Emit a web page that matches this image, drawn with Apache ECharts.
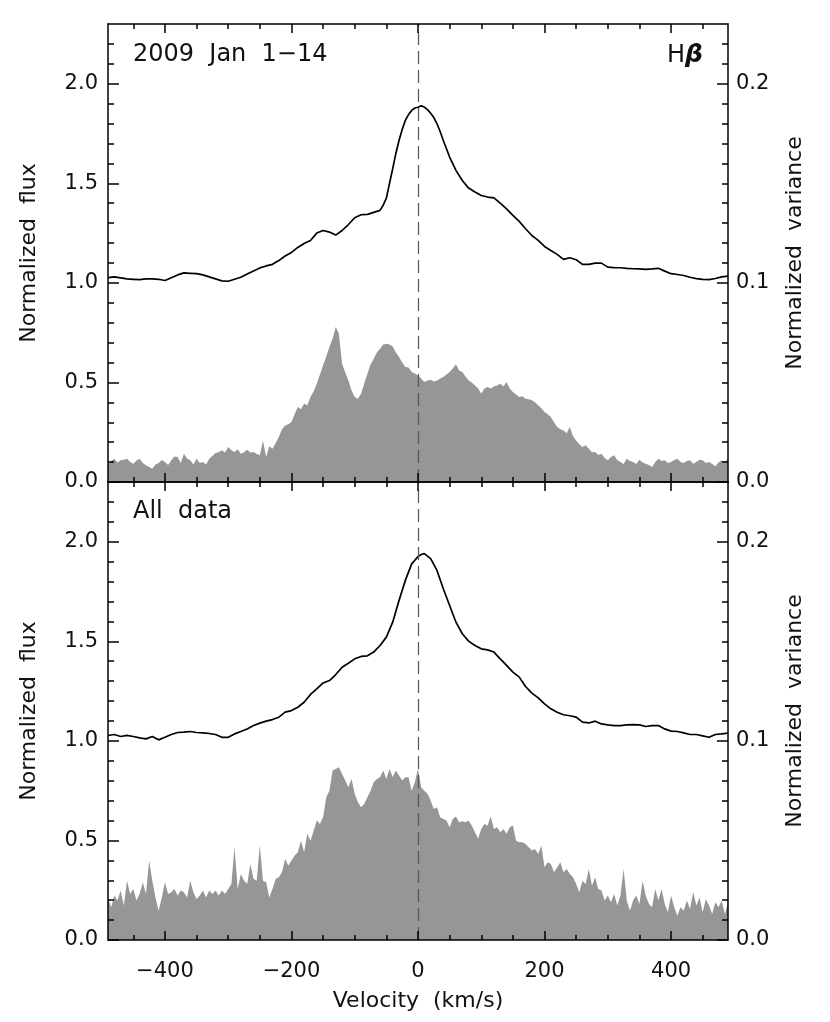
<!DOCTYPE html>
<html>
<head>
<meta charset="utf-8">
<title>H-beta flux and variance</title>
<script src="https://cdn.jsdelivr.net/npm/echarts@6/dist/echarts.min.js"></script>
<style>
  html, body { margin: 0; padding: 0; background: #fff; }
  #chart { width: 830px; height: 1022px; }
</style>
</head>
<body>
<div id="chart"></div>
<script>
// velocity (km/s), normalized flux  -- 2009 Jan 1-14
var topFlux = [[-490,1.026],[-480,1.03],[-470,1.025],[-460,1.02],[-450,1.018],[-440,1.016],[-430,1.02],[-420,1.02],[-410,1.018],[-400,1.012],[-390,1.026],[-380,1.04],[-370,1.05],[-360,1.048],[-350,1.046],[-340,1.04],[-330,1.03],[-320,1.02],[-310,1.01],[-300,1.008],[-290,1.018],[-280,1.028],[-270,1.045],[-260,1.06],[-250,1.075],[-240,1.085],[-230,1.093],[-220,1.112],[-210,1.135],[-200,1.153],[-190,1.178],[-180,1.198],[-170,1.213],[-160,1.25],[-150,1.263],[-140,1.255],[-130,1.24],[-120,1.263],[-110,1.293],[-100,1.327],[-90,1.342],[-80,1.344],[-70,1.354],[-60,1.364],[-55,1.39],[-50,1.426],[-45,1.5],[-40,1.573],[-35,1.65],[-30,1.715],[-25,1.77],[-20,1.816],[-15,1.845],[-10,1.866],[-5,1.878],[0,1.882],[5,1.889],[10,1.883],[15,1.87],[20,1.852],[25,1.83],[30,1.799],[35,1.76],[40,1.715],[50,1.632],[60,1.565],[70,1.514],[80,1.476],[90,1.456],[100,1.439],[110,1.431],[120,1.427],[130,1.4],[140,1.372],[150,1.339],[160,1.309],[170,1.272],[180,1.238],[190,1.213],[200,1.183],[210,1.163],[220,1.143],[230,1.118],[240,1.126],[250,1.116],[260,1.093],[270,1.093],[280,1.099],[290,1.099],[300,1.079],[310,1.077],[320,1.076],[330,1.073],[340,1.071],[350,1.07],[360,1.068],[370,1.07],[380,1.073],[390,1.059],[400,1.046],[410,1.042],[420,1.037],[430,1.028],[440,1.021],[450,1.018],[460,1.016],[470,1.022],[480,1.03],[490,1.034]];

// velocity, normalized variance -- 2009 Jan 1-14
var topVar = [[-490,.0092],[-485,.0105],[-480,.0117],[-475,.0098],[-470,.0109],[-465,.0112],[-460,.0117],[-455,.0100],[-450,.0092],[-445,.0108],[-440,.0117],[-435,.0095],[-430,.0084],[-425,.0075],[-420,.0067],[-415,.0088],[-410,.0095],[-405,.0110],[-400,.0100],[-395,.0085],[-390,.0109],[-385,.0128],[-380,.0126],[-375,.0095],[-370,.0142],[-365,.0118],[-360,.0109],[-355,.0088],[-350,.0117],[-345,.0095],[-340,.0100],[-335,.0088],[-330,.0117],[-325,.0130],[-320,.0146],[-315,.0150],[-310,.0159],[-305,.0148],[-300,.0176],[-295,.0160],[-290,.0151],[-285,.0165],[-280,.0142],[-275,.0150],[-270,.0162],[-265,.0148],[-260,.0151],[-255,.0140],[-250,.0134],[-245,.0209],[-240,.0126],[-235,.0180],[-230,.0167],[-225,.0195],[-220,.0226],[-215,.0265],[-210,.0284],[-205,.0290],[-200,.0301],[-195,.0340],[-190,.0377],[-185,.0365],[-180,.0393],[-175,.0385],[-170,.0427],[-165,.0455],[-160,.0494],[-155,.0540],[-150,.0586],[-145,.0630],[-140,.0678],[-135,.0720],[-130,.0778],[-125,.0745],[-120,.0594],[-115,.0550],[-110,.0510],[-105,.0460],[-100,.0427],[-95,.0418],[-90,.0443],[-85,.0495],[-80,.0544],[-75,.0590],[-70,.0619],[-65,.0650],[-60,.0669],[-55,.0690],[-50,.0694],[-45,.0690],[-40,.0681],[-35,.0650],[-30,.0628],[-25,.0600],[-20,.0577],[-15,.0575],[-10,.0552],[-5,.0545],[0,.0535],[5,.0520],[10,.0502],[15,.0510],[20,.0514],[25,.0505],[30,.0510],[35,.0520],[40,.0527],[45,.0540],[50,.0552],[55,.0570],[60,.0591],[65,.0560],[70,.0552],[75,.0530],[80,.0510],[85,.0500],[90,.0485],[95,.0470],[100,.0443],[105,.0470],[110,.0477],[115,.0470],[120,.0480],[125,.0485],[130,.0494],[135,.0480],[140,.0502],[145,.0470],[150,.0452],[155,.0440],[160,.0427],[165,.0430],[170,.0418],[175,.0415],[180,.0410],[185,.0400],[190,.0385],[195,.0370],[200,.0351],[205,.0340],[210,.0326],[215,.0300],[220,.0276],[225,.0265],[230,.0259],[235,.0245],[240,.0276],[245,.0230],[250,.0209],[255,.0190],[260,.0176],[265,.0185],[270,.0167],[275,.0150],[280,.0151],[285,.0135],[290,.0142],[295,.0120],[300,.0109],[305,.0125],[310,.0134],[315,.0110],[320,.0100],[325,.0090],[330,.0117],[335,.0105],[340,.0100],[345,.0090],[350,.0112],[355,.0098],[360,.0092],[365,.0085],[370,.0075],[375,.0100],[380,.0117],[385,.0105],[390,.0109],[395,.0095],[400,.0100],[405,.0110],[410,.0117],[415,.0100],[420,.0095],[425,.0105],[430,.0109],[435,.0092],[440,.0100],[445,.0112],[450,.0109],[455,.0095],[460,.0100],[465,.0090],[470,.0079],[475,.0098],[480,.0109],[485,.0100],[490,.0117]];

// velocity, normalized flux -- all data
var allFlux = [[-490,1.027],[-480,1.032],[-470,1.022],[-460,1.028],[-450,1.022],[-440,1.015],[-430,1.01],[-420,1.022],[-410,1.005],[-400,1.018],[-390,1.032],[-380,1.042],[-370,1.044],[-360,1.047],[-350,1.042],[-340,1.04],[-330,1.037],[-320,1.032],[-310,1.018],[-300,1.018],[-290,1.035],[-280,1.047],[-270,1.06],[-260,1.077],[-250,1.089],[-240,1.099],[-230,1.107],[-220,1.119],[-210,1.144],[-200,1.152],[-190,1.169],[-180,1.194],[-170,1.233],[-160,1.261],[-150,1.291],[-140,1.303],[-130,1.333],[-120,1.37],[-110,1.39],[-100,1.412],[-90,1.424],[-80,1.427],[-70,1.446],[-60,1.479],[-50,1.521],[-40,1.596],[-30,1.705],[-20,1.806],[-10,1.889],[0,1.925],[5,1.936],[10,1.94],[20,1.915],[30,1.856],[40,1.764],[50,1.68],[60,1.596],[70,1.538],[80,1.501],[90,1.479],[100,1.462],[110,1.457],[120,1.446],[130,1.412],[140,1.379],[150,1.345],[160,1.32],[170,1.273],[180,1.24],[190,1.216],[200,1.186],[210,1.161],[220,1.144],[230,1.131],[240,1.126],[250,1.119],[260,1.094],[270,1.09],[280,1.099],[290,1.085],[300,1.08],[310,1.077],[320,1.077],[330,1.08],[340,1.082],[350,1.08],[360,1.072],[370,1.077],[380,1.077],[390,1.06],[400,1.049],[410,1.047],[420,1.04],[430,1.032],[440,1.032],[450,1.025],[460,1.018],[470,1.032],[480,1.035],[490,1.039]];

// velocity, normalized variance -- all data
var allVar = [[-490,.0214],[-485,.0164],[-480,.0223],[-475,.0198],[-470,.0248],[-465,.0173],[-460,.0298],[-455,.0231],[-450,.0256],[-445,.0198],[-440,.0231],[-435,.0290],[-430,.0231],[-425,.0399],[-420,.0298],[-415,.0214],[-410,.0147],[-405,.0214],[-400,.0290],[-395,.0231],[-390,.0240],[-385,.0256],[-380,.0223],[-375,.0248],[-370,.0240],[-365,.0214],[-360,.0298],[-355,.0240],[-350,.0206],[-345,.0223],[-340,.0248],[-335,.0214],[-330,.0248],[-325,.0231],[-320,.0248],[-315,.0223],[-310,.0248],[-305,.0231],[-300,.0256],[-295,.0281],[-290,.0466],[-285,.0256],[-280,.0332],[-275,.0298],[-270,.0281],[-265,.0382],[-260,.0307],[-255,.0298],[-250,.0474],[-245,.0298],[-240,.0290],[-235,.0214],[-230,.0256],[-225,.0307],[-220,.0315],[-215,.0340],[-210,.0407],[-205,.0374],[-200,.0399],[-195,.0424],[-190,.0441],[-185,.0499],[-180,.0441],[-175,.0533],[-170,.0499],[-165,.0549],[-160,.0600],[-155,.0583],[-150,.0616],[-145,.0717],[-140,.0750],[-135,.0851],[-130,.0859],[-125,.0868],[-120,.0834],[-115,.0801],[-110,.0767],[-105,.0809],[-100,.0734],[-95,.0692],[-90,.0667],[-85,.0683],[-80,.0717],[-75,.0750],[-70,.0792],[-65,.0809],[-60,.0817],[-55,.0851],[-50,.0809],[-45,.0859],[-40,.0817],[-35,.0851],[-30,.0826],[-25,.0801],[-20,.0817],[-15,.0817],[-10,.0750],[-5,.0792],[0,.0860],[5,.0767],[10,.0750],[15,.0734],[20,.0700],[25,.0658],[30,.0667],[35,.0616],[40,.0608],[45,.0600],[50,.0566],[55,.0608],[60,.0620],[65,.0591],[70,.0596],[75,.0591],[80,.0600],[85,.0575],[90,.0541],[95,.0508],[100,.0558],[105,.0583],[110,.0575],[115,.0620],[120,.0558],[125,.0566],[130,.0541],[135,.0558],[140,.0533],[145,.0566],[150,.0575],[155,.0499],[160,.0491],[165,.0491],[170,.0482],[175,.0466],[180,.0449],[185,.0457],[190,.0432],[195,.0474],[200,.0365],[205,.0390],[210,.0382],[215,.0340],[220,.0365],[225,.0390],[230,.0340],[235,.0357],[240,.0332],[245,.0315],[250,.0281],[255,.0240],[260,.0298],[265,.0281],[270,.0357],[275,.0273],[280,.0315],[285,.0256],[290,.0248],[295,.0198],[300,.0223],[305,.0189],[310,.0231],[315,.0173],[320,.0223],[325,.0357],[330,.0198],[335,.0147],[340,.0198],[345,.0223],[350,.0181],[355,.0298],[360,.0223],[365,.0181],[370,.0164],[375,.0256],[380,.0198],[385,.0256],[390,.0181],[395,.0139],[400,.0223],[405,.0164],[410,.0122],[415,.0164],[420,.0147],[425,.0198],[430,.0156],[435,.0240],[440,.0173],[445,.0214],[450,.0139],[455,.0206],[460,.0173],[465,.0131],[470,.0189],[475,.0164],[480,.0198],[485,.0131],[490,.0189]];

// tick labels
var velTicks = [-400, -200, 0, 200, 400];
var fluxTicks = [0, 0.5, 1.0, 1.5, 2.0];
var varTicks = [0, 0.1, 0.2];

var FONT = 'DejaVu Sans';
var velMinor = [], fluxMinor = [], varMinor = [];
for (var i = -9; i <= 9; i++) velMinor.push(i * 50);
for (var j = 0; j <= 22; j++) fluxMinor.push(+(j * 0.1).toFixed(1));
for (var k = 0; k <= 22; k++) varMinor.push(+(k * 0.01).toFixed(2));

function minus(v) {
  return v < 0 ? '\u2212' + (-v) : String(v);
}

var panels = [
  { top: 24, height: 458, flux: topFlux, vari: topVar, last: false },
  { top: 482, height: 458, flux: allFlux, vari: allVar, last: true }
];

var grids = [], xAxes = [], yAxes = [], series = [];
var axisLine = { show: true, onZero: false, lineStyle: { color: '#000', width: 1.5 } };
var noLine = { show: false, onZero: false };
var txt = { fontFamily: FONT, fontSize: 22, color: '#111' };

panels.forEach(function (p, g) {
  grids.push({ left: 108, right: 102, top: p.top, height: p.height, containLabel: false });

  // x axes: bottom major, bottom minor, top major, top minor
  ['bottom', 'top'].forEach(function (pos) {
    var labels = pos === 'bottom' && p.last;
    xAxes.push({
      type: 'value', gridIndex: g, position: pos, min: -490, max: 490, z: 5,
      axisLine: axisLine,
      splitLine: { show: false },
      axisTick: { show: true, inside: true, length: 9, customValues: velTicks, lineStyle: { color: '#000', width: 1.5 } },
      axisLabel: { show: labels, customValues: velTicks, formatter: minus, margin: 21,
        fontFamily: FONT, fontSize: 21, color: '#111' },
      name: labels ? 'Velocity  (km/s)' : '', nameLocation: 'middle', nameGap: 50,
      nameTextStyle: txt
    });
    xAxes.push({
      type: 'value', gridIndex: g, position: pos, min: -490, max: 490, z: 5,
      axisLine: noLine, splitLine: { show: false }, axisLabel: { show: false },
      axisTick: { show: true, inside: true, length: 5, customValues: velMinor, lineStyle: { color: '#000', width: 1.5 } }
    });
  });

  // y axes: flux major/minor on the left, variance major/minor on the right
  yAxes.push({
    type: 'value', gridIndex: g, position: 'left', min: 0, max: 2.3, z: 5,
    axisLine: axisLine, splitLine: { show: false },
    axisTick: { show: true, inside: true, length: 11, customValues: fluxTicks, lineStyle: { color: '#000', width: 1.5 } },
    axisLabel: { customValues: fluxTicks, formatter: function (v) { return v.toFixed(1); },
      margin: 10, fontFamily: FONT, fontSize: 21, color: '#111' },
    name: 'Normalized  flux', nameLocation: 'middle', nameGap: 68, nameRotate: 90,
    nameTextStyle: txt
  });
  yAxes.push({
    type: 'value', gridIndex: g, position: 'left', min: 0, max: 2.3, z: 5,
    axisLine: noLine, splitLine: { show: false }, axisLabel: { show: false },
    axisTick: { show: true, inside: true, length: 6, customValues: fluxMinor, lineStyle: { color: '#000', width: 1.5 } }
  });
  yAxes.push({
    type: 'value', gridIndex: g, position: 'right', min: 0, max: 0.23, z: 5,
    axisLine: axisLine, splitLine: { show: false },
    axisTick: { show: true, inside: true, length: 11, customValues: varTicks, lineStyle: { color: '#000', width: 1.5 } },
    axisLabel: { customValues: varTicks, formatter: function (v) { return v.toFixed(1); },
      margin: 8, fontFamily: FONT, fontSize: 21, color: '#111' },
    name: 'Normalized  variance', nameLocation: 'middle', nameGap: 56, nameRotate: 90,
    nameTextStyle: txt
  });
  yAxes.push({
    type: 'value', gridIndex: g, position: 'right', min: 0, max: 0.23, z: 5,
    axisLine: noLine, splitLine: { show: false }, axisLabel: { show: false },
    axisTick: { show: true, inside: true, length: 6, customValues: varMinor, lineStyle: { color: '#000', width: 1.5 } }
  });

  // variance as a grey filled area
  series.push({
    type: 'line', xAxisIndex: g * 4, yAxisIndex: g * 4 + 2, data: p.vari,
    showSymbol: false, silent: true,
    lineStyle: { width: 0 },
    areaStyle: { color: '#969696', opacity: 1 }
  });
  // flux profile, plus the dashed zero-velocity line
  series.push({
    type: 'line', xAxisIndex: g * 4, yAxisIndex: g * 4, data: p.flux,
    showSymbol: false, silent: true,
    lineStyle: { color: '#000', width: 1.7 },
    markLine: {
      silent: true, symbol: 'none', label: { show: false },
      lineStyle: { color: '#555', width: 1.2, type: [13, 6] },
      data: [{ xAxis: 0 }]
    }
  });
});

var chart = echarts.init(document.getElementById('chart'));
chart.setOption({
  animation: false,
  backgroundColor: '#fff',
  grid: grids,
  xAxis: xAxes,
  yAxis: yAxes,
  series: series,
  graphic: [
    { type: 'text', left: 133, top: 43, style: { text: '2009  Jan  1\u221214', fontFamily: FONT, fontSize: 24, fill: '#111' } },
    { type: 'text', right: 127, top: 43, style: { text: 'H{b|\u03b2}', fontFamily: FONT, fontSize: 24, fill: '#111',
      rich: { b: { fontFamily: FONT, fontSize: 25, fontStyle: 'italic', fontWeight: 'bold', fill: '#111' } } } },
    { type: 'text', left: 133, top: 500, style: { text: 'All  data', fontFamily: FONT, fontSize: 24, fill: '#111' } }
  ]
});
</script>
</body>
</html>
